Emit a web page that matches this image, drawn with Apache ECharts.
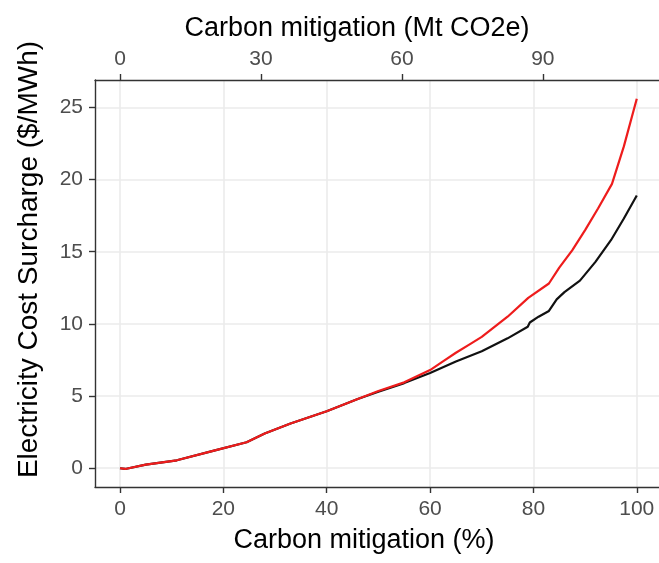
<!DOCTYPE html>
<html>
<head>
<meta charset="utf-8">
<script src="https://cdn.jsdelivr.net/npm/echarts@6/dist/echarts.min.js"></script>
<style>
  html, body { margin: 0; padding: 0; background: #ffffff; }
  #chart { width: 659px; height: 563px; }
</style>
</head>
<body>
<div id="chart"></div>
<script>
// Carbon mitigation share (%) and electricity cost surcharge ($/MWh)
const pctBlack  = [0, 1, 5, 11, 18, 24.5, 28, 33, 40, 46, 50, 55, 60, 65, 70, 75, 78.9, 79.3, 81, 83, 84.5, 86, 89, 92, 95, 97.5, 100];
const costBlack = [0, -0.05, 0.25, 0.55, 1.2, 1.8, 2.4, 3.1, 3.95, 4.8, 5.3, 5.9, 6.6, 7.4, 8.1, 9.0, 9.8, 10.1, 10.5, 10.9, 11.7, 12.2, 13.0, 14.3, 15.8, 17.3, 18.9];

const pctRed  = [0, 1, 5, 11, 18, 24.5, 28, 33, 40, 46, 50, 55, 60, 62.5, 65, 67.5, 70, 75, 79, 83, 85, 87.5, 90, 92.5, 95.2, 97.5, 100];
const costRed = [0, -0.05, 0.25, 0.55, 1.2, 1.8, 2.4, 3.1, 3.95, 4.8, 5.35, 5.95, 6.8, 7.4, 8.0, 8.55, 9.1, 10.5, 11.8, 12.8, 13.9, 15.1, 16.5, 18.0, 19.7, 22.3, 25.6];

// Axis tick values
const pctTicks  = [0, 20, 40, 60, 80, 100];
const mtTicks   = [0, 30, 60, 90];
const costTicks = [0, 5, 10, 15, 20, 25];

// 100 % mitigation corresponds to 110 Mt CO2e
const MT_PER_PCT = 1.1;
const PCT_MIN = -4.84, PCT_MAX = 104.3;

const FONT = "'Liberation Sans', Arial, Helvetica, sans-serif";
const gridLine = { show: true, lineStyle: { color: '#ebebeb', width: 1.6 } };
const axisLine = { show: true, onZero: false, lineStyle: { color: '#333333', width: 1.4 } };
const axisTick = (vals) => ({ show: true, length: 6, customValues: vals, lineStyle: { color: '#333333', width: 1.4 } });
const tickLabel = (vals, margin) => ({
  customValues: vals, margin: margin, color: '#4d4d4d', fontSize: 21, fontFamily: FONT
});

const chart = echarts.init(document.getElementById('chart'), null, { renderer: 'canvas' });

chart.setOption({
  animation: false,
  backgroundColor: '#ffffff',
  grid: { left: 95, top: 80, right: 0, height: 407, containLabel: false },
  xAxis: [
    {
      type: 'value', position: 'bottom', min: PCT_MIN, max: PCT_MAX,
      name: 'Carbon mitigation (%)', nameLocation: 'middle', nameGap: 40,
      nameTextStyle: { fontSize: 27, color: '#000000', fontFamily: FONT, padding: [0, 26, 0, 0] },
      axisLine: axisLine, axisTick: axisTick(pctTicks),
      axisLabel: tickLabel(pctTicks, 12),
      splitLine: gridLine
    },
    {
      type: 'value', position: 'top', min: PCT_MIN * MT_PER_PCT, max: PCT_MAX * MT_PER_PCT,
      name: 'Carbon mitigation (Mt CO2e)', nameLocation: 'middle', nameGap: 38,
      nameTextStyle: { fontSize: 27, color: '#000000', fontFamily: FONT, padding: [0, 40, 0, 0] },
      axisLine: axisLine, axisTick: axisTick(mtTicks),
      axisLabel: tickLabel(mtTicks, 10),
      splitLine: { show: false }
    }
  ],
  yAxis: {
    type: 'value', min: -1.3, max: 26.9,
    name: 'Electricity Cost Surcharge ($/MWh)', nameLocation: 'middle', nameGap: 52,
    nameTextStyle: { fontSize: 28, color: '#000000', fontFamily: FONT, padding: [0, 0, 0, 48] },
    axisLine: axisLine, axisTick: axisTick(costTicks),
    axisLabel: tickLabel(costTicks, 12),
    splitLine: gridLine
  },
  series: [
    {
      name: 'black', type: 'line', xAxisIndex: 0, showSymbol: false, symbol: 'none',
      lineStyle: { color: '#111111', width: 2.2 },
      data: pctBlack.map((p, i) => [p, costBlack[i]])
    },
    {
      name: 'red', type: 'line', xAxisIndex: 0, showSymbol: false, symbol: 'none',
      lineStyle: { color: '#ee1c1c', width: 2.2 },
      data: pctRed.map((p, i) => [p, costRed[i]])
    }
  ]
});
</script>
</body>
</html>
